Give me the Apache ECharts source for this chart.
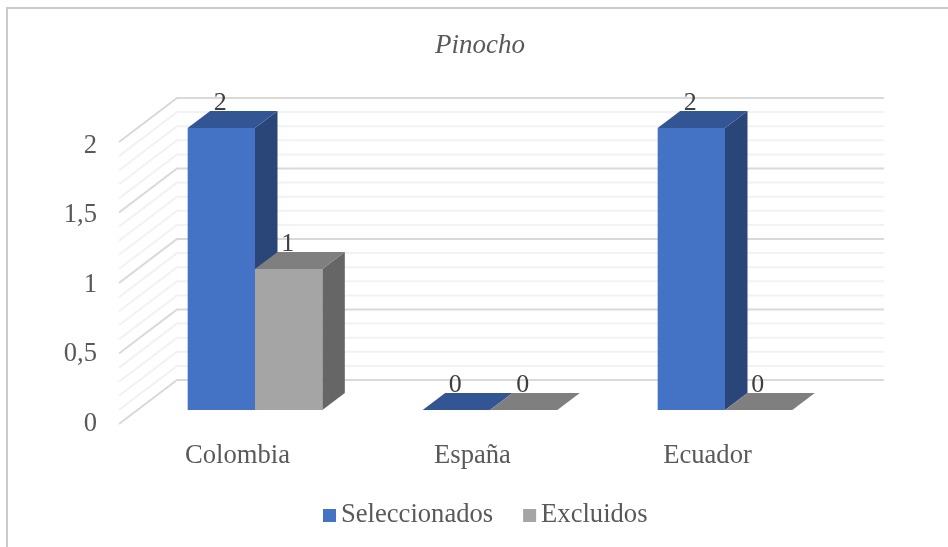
<!DOCTYPE html>
<html><head><meta charset="utf-8">
<style>html,body{margin:0;padding:0;background:#fff}#c{width:948px;height:547px}</style>
<script src="https://cdn.jsdelivr.net/npm/echarts@6/dist/echarts.min.js"></script>
</head><body><div id="c"></div>
<script>
const titleText = 'Pinocho';
const categories = ['Colombia', 'España', 'Ecuador'];
const seleccionados = [2, 0, 2];
const excluidos = [1, 0, 0];
const wallTicks = [0,0.1,0.2,0.3,0.4,0.5,0.6,0.7,0.8,0.9,1,1.1,1.2,1.3,1.4,1.5,1.6,1.7,1.8,1.9,2];
const majorTicks = [0,0.5,1,1.5,2];

const FONT = '"Liberation Serif", serif';
const BAR_FRAC = 0.2865, DX = 22.5, DY = -17;
const WALL_FRONT = [-18.5, 14], WALL_BACK = [39.5, -30], WALL_W = 707;

function bar3d(col, slot) {
  return function (params, api) {
    const v = api.value(1);
    const base = api.coord([api.value(0), 0]);
    const top = api.coord([api.value(0), v]);
    const w = api.size([1, 0])[0] * BAR_FRAC;
    const x0 = base[0] + slot * w, x1 = x0 + w, yb = base[1], yt = top[1];
    const poly = (pts, fill) => ({ type: 'polygon', shape: { points: pts }, style: { fill: fill } });
    return { type: 'group', children: [
      poly([[x1, yb], [x1 + DX, yb + DY], [x1 + DX, yt + DY], [x1, yt]], col.side),
      poly([[x0, yt], [x1, yt], [x1 + DX, yt + DY], [x0 + DX, yt + DY]], col.top),
      { type: 'rect', shape: { x: x0, y: yt, width: w, height: yb - yt }, style: { fill: col.front } },
      { type: 'text', style: { text: String(v), x: (x0 + x1) / 2 - 1, y: yt - 24.5, align: 'center', verticalAlign: 'middle',
          font: '26px ' + FONT, fill: '#404040' } }
    ] };
  };
}

function wall(params, api) {
  const v = api.value(0);
  const o = api.coord([0, v]);
  const left = o[0] - api.size([1, 0])[0] / 2;
  const major = majorTicks.indexOf(v) >= 0;
  const a = [left + WALL_FRONT[0], o[1] + WALL_FRONT[1]];
  const b = [left + WALL_BACK[0], o[1] + WALL_BACK[1]];
  const c = [b[0] + WALL_W, b[1]];
  return { type: 'polyline', shape: { points: [a, b, c] },
    style: { fill: null, stroke: major ? '#D9D9D9' : '#F2F2F2', lineWidth: 2 }, z2: major ? 2 : 1 };
}

const chart = echarts.init(document.getElementById('c'), null, { renderer: 'canvas' });
chart.setOption({
  animation: false,
  backgroundColor: '#fff',
  graphic: [{ type: 'polyline', silent: true, z: -1, shape: { points: [[7, 547], [7, 8], [948, 8]] },
    style: { fill: null, stroke: '#CBCBCB', lineWidth: 2 } }],
  title: { text: titleText, left: 475, top: 27, textAlign: 'center',
    textStyle: { fontFamily: FONT, fontStyle: 'italic', fontWeight: 'normal', fontSize: 27, color: '#595959' } },
  legend: { data: ['Seleccionados', 'Excluidos'], left: 318, top: 497, icon: 'rect', itemWidth: 13, itemHeight: 13, itemGap: 30,
    textStyle: { fontFamily: FONT, fontSize: 26.6, color: '#595959' } },
  grid: [
    { left: 137.5, top: 128, width: 705, height: 282 },
    { left: 120, top: 146, width: 705, height: 278 }
  ],
  xAxis: [
    { type: 'category', gridIndex: 0, data: categories, show: false },
    { type: 'category', gridIndex: 1, data: categories, axisLine: { show: false }, axisTick: { show: false },
      axisLabel: { margin: 19, fontFamily: FONT, fontSize: 26.6, color: '#595959' } }
  ],
  yAxis: [
    { type: 'value', gridIndex: 0, min: 0, max: 2, interval: 0.5, show: false },
    { type: 'value', gridIndex: 1, min: 0, max: 2, interval: 0.5, axisLine: { show: false }, axisTick: { show: false },
      splitLine: { show: false },
      axisLabel: { margin: 23, fontFamily: FONT, fontSize: 26.6, color: '#595959',
        formatter: v => String(v).replace('.', ',') } }
  ],
  series: [
    { type: 'custom', name: 'wall', xAxisIndex: 0, yAxisIndex: 0, z: 1, silent: true,
      data: wallTicks.map(v => [v]), encode: { y: 0 }, renderItem: wall },
    { type: 'custom', name: 'Seleccionados', xAxisIndex: 0, yAxisIndex: 0, z: 2, silent: true,
      itemStyle: { color: '#4472C4' }, encode: { x: 0, y: 1 },
      data: seleccionados.map((v, i) => [i, v]),
      renderItem: bar3d({ front: '#4472C4', top: '#335593', side: '#2A4679' }, -1) },
    { type: 'custom', name: 'Excluidos', xAxisIndex: 0, yAxisIndex: 0, z: 3, silent: true,
      itemStyle: { color: '#A5A5A5' }, encode: { x: 0, y: 1 },
      data: excluidos.map((v, i) => [i, v]),
      renderItem: bar3d({ front: '#A5A5A5', top: '#7F7F7F', side: '#666666' }, 0) }
  ]
});
</script></body></html>
